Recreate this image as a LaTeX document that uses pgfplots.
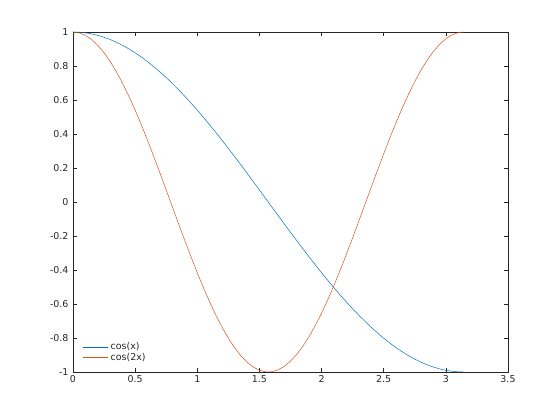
\documentclass[border=0pt]{standalone}
\usepackage{fontspec}
\setmainfont{DejaVu Sans}
\usepackage{pgfplots}
\pgfplotsset{compat=1.18}
\definecolor{mblue}{RGB}{0,114,189}
\definecolor{morange}{RGB}{217,83,25}
\definecolor{axgray}{RGB}{38,38,38}
\begin{document}
\begin{tikzpicture}
\begin{axis}[
  scale only axis,
  width=435bp, height=340bp,
  xmin=0, xmax=3.5, ymin=-1, ymax=1,
  xtick={0,0.5,...,3.5},
  ytick={-1,-0.8,...,1},
  tick align=inside,
  major tick length=4bp,
  axis line style={axgray, line width=0.5pt},
  every tick/.style={axgray, line width=0.5pt},
  tick label style={font=\fontsize{9.5}{11}\selectfont, text=axgray},
  yticklabel style={xshift=-1bp},
  /pgf/number format/assume math mode=true,
  yticklabel style={/pgf/number format/fixed, /pgf/number format/precision=1},
  xticklabel style={/pgf/number format/fixed},
  legend style={at={(0,0)}, anchor=south west, xshift=8bp, yshift=6bp, draw=none, fill=none,
    font=\fontsize{9.5}{11}\selectfont, text=axgray, row sep=-2bp, inner sep=2bp},
  legend cell align=left,
  legend image code/.code={\draw[#1] (0bp,0bp) -- (25bp,0bp);},
]
\addplot[color=mblue, line width=0.5pt] coordinates {
(0,1) (0.05,0.99875) (0.1,0.99500) (0.15,0.98877) (0.2,0.98007) (0.25,0.96891)
(0.3,0.95534) (0.35,0.93937) (0.4,0.92106) (0.45,0.90045) (0.5,0.87758)
(0.55,0.85252) (0.6,0.82534) (0.65,0.79608) (0.7,0.76484) (0.75,0.73169)
(0.8,0.69671) (0.85,0.65998) (0.9,0.62161) (0.95,0.58168) (1.0,0.54030)
(1.05,0.49757) (1.1,0.45360) (1.15,0.40849) (1.2,0.36236) (1.25,0.31532)
(1.3,0.26750) (1.35,0.21901) (1.4,0.16997) (1.45,0.12050) (1.5,0.07074)
(1.55,0.02079) (1.6,-0.02920) (1.65,-0.07912) (1.7,-0.12884) (1.75,-0.17825)
(1.8,-0.22720) (1.85,-0.27559) (1.9,-0.32329) (1.95,-0.37018) (2.0,-0.41615)
(2.05,-0.46107) (2.1,-0.50485) (2.15,-0.54736) (2.2,-0.58850) (2.25,-0.62817)
(2.3,-0.66628) (2.35,-0.70271) (2.4,-0.73739) (2.45,-0.77023) (2.5,-0.80114)
(2.55,-0.83005) (2.6,-0.85689) (2.65,-0.88158) (2.7,-0.90407) (2.75,-0.92430)
(2.8,-0.94222) (2.85,-0.95779) (2.9,-0.97096) (2.95,-0.98170) (3.0,-0.98999)
(3.05,-0.99581) (3.1,-0.99914) (3.1416,-1)
};
\addlegendentry{cos(x)}
\addplot[color=morange, line width=0.5pt] coordinates {
(0,1) (0.05,0.99500) (0.1,0.98007) (0.15,0.95534) (0.2,0.92106) (0.25,0.87758)
(0.3,0.82534) (0.35,0.76484) (0.4,0.69671) (0.45,0.62161) (0.5,0.54030)
(0.55,0.45360) (0.6,0.36236) (0.65,0.26750) (0.7,0.16997) (0.75,0.07074)
(0.8,-0.02920) (0.85,-0.12884) (0.9,-0.22720) (0.95,-0.32329) (1.0,-0.41615)
(1.05,-0.50485) (1.1,-0.58850) (1.15,-0.66628) (1.2,-0.73739) (1.25,-0.80114)
(1.3,-0.85689) (1.35,-0.90407) (1.4,-0.94222) (1.45,-0.97096) (1.5,-0.98999)
(1.55,-0.99914) (1.5708,-1) (1.6,-0.99829) (1.65,-0.98748) (1.7,-0.96680)
(1.75,-0.93646) (1.8,-0.89676) (1.85,-0.84810) (1.9,-0.79097) (1.95,-0.72556)
(2.0,-0.65364) (2.05,-0.57482) (2.1,-0.49026) (2.15,-0.40080) (2.2,-0.30733)
(2.25,-0.21080) (2.3,-0.11215) (2.35,-0.01239) (2.4,0.08750) (2.45,0.18651)
(2.5,0.28366) (2.55,0.37798) (2.6,0.46852) (2.65,0.55437) (2.7,0.63469)
(2.75,0.70867) (2.8,0.77557) (2.85,0.83471) (2.9,0.88552) (2.95,0.92751)
(3.0,0.96017) (3.05,0.98326) (3.1,0.99654) (3.1416,1)
};
\addlegendentry{cos(2x)}
\end{axis}
\useasboundingbox ([shift={(-73bp,-48bp)}]current axis.south west) rectangle ([shift={(52bp,32bp)}]current axis.north east);
\end{tikzpicture}
\end{document}
